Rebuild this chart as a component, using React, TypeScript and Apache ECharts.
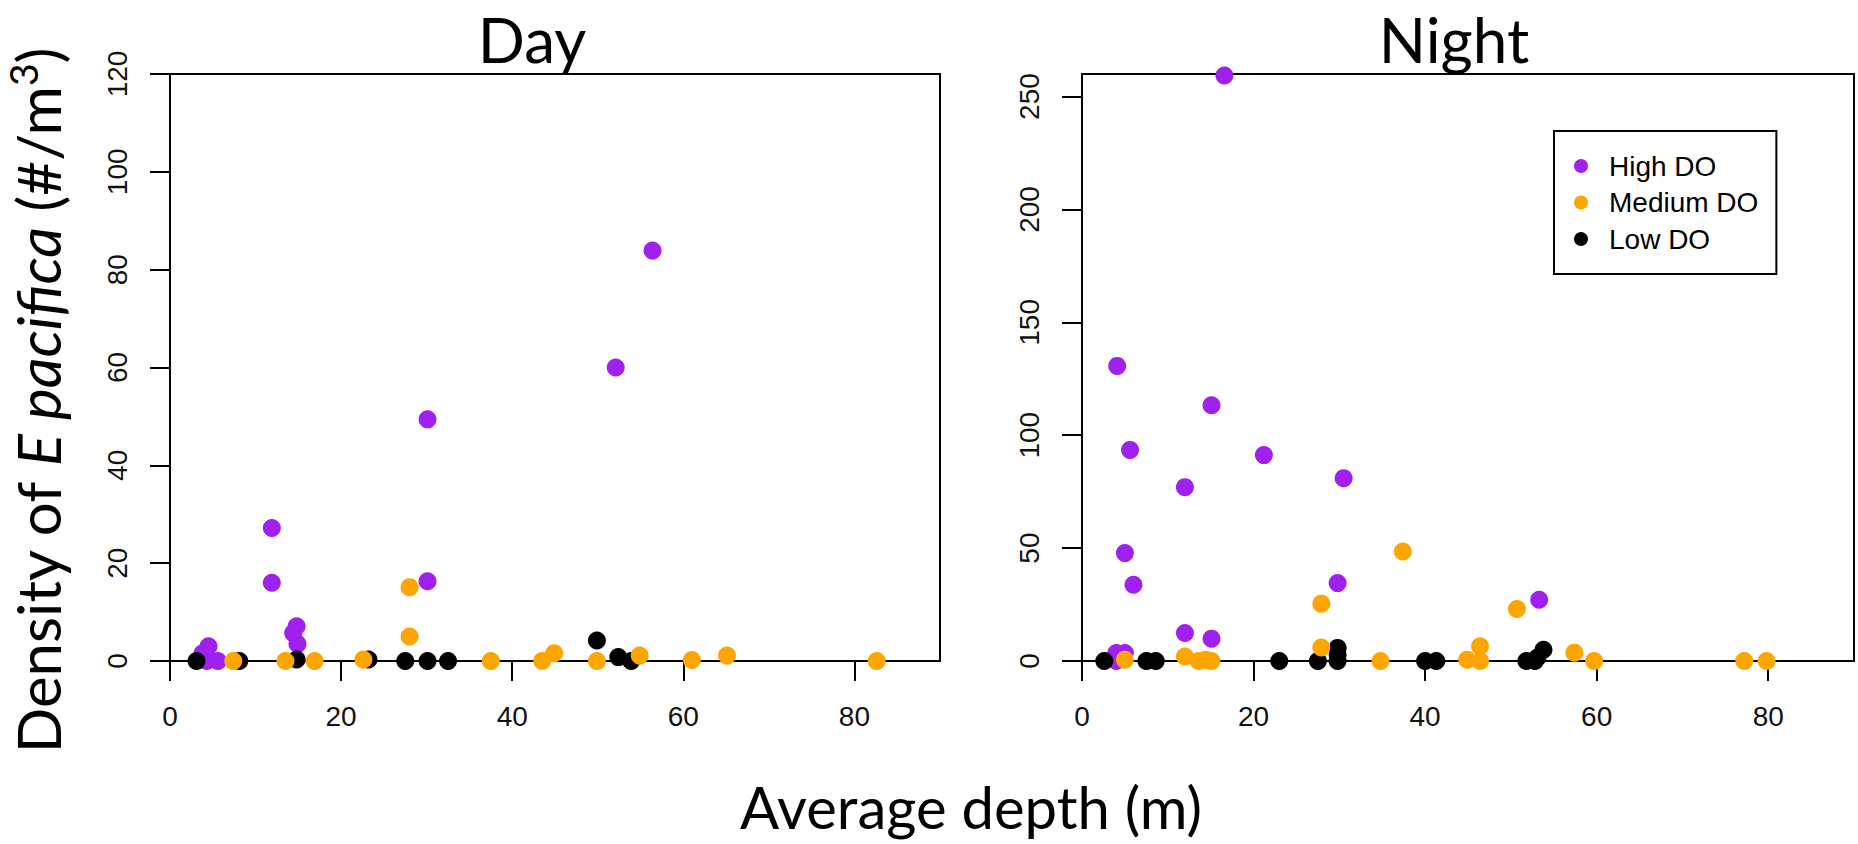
import React, { useEffect, useRef } from "react";
import * as echarts from "echarts";

// ---- tick values ----
const xTicks = [0, 20, 40, 60, 80];
const dayYTicks = [0, 20, 40, 60, 80, 100, 120];
const nightYTicks = [0, 50, 100, 150, 200, 250];

// ---- legend / groups ----
const groupNames = ["High DO", "Medium DO", "Low DO"];
const groupColors = ["#A020F0", "#FFA500", "#000000"];

// ---- Day: [average depth (m), density (#/m3)] ----
const dayHigh = [
  [4.5, 3.0], [3.8, 1.6], [4.3, 0], [5.6, 0], [11.9, 27.2], [11.9, 16.0],
  [14.8, 7.1], [14.4, 5.7], [14.9, 3.5], [30.1, 49.4], [30.1, 16.3],
  [52.1, 60.0], [56.4, 83.9],
];
const dayMedium = [
  [7.4, 0], [13.5, 0], [16.9, 0], [22.6, 0.3], [28.0, 15.1], [28.0, 5.0],
  [37.5, 0], [43.5, 0], [44.9, 1.6], [49.9, 0], [54.9, 1.1], [61.0, 0.2],
  [65.1, 1.1], [82.6, 0],
];
const dayLow = [
  [3.1, 0], [8.1, 0], [14.8, 0.3], [23.2, 0.3], [27.5, 0], [30.1, 0],
  [32.5, 0], [49.9, 4.2], [52.4, 0.8], [53.9, 0],
];

// ---- Night ----
const nightHigh = [
  [16.6, 259.3], [4.1, 130.7], [15.1, 113.3], [5.6, 93.5], [21.2, 91.2],
  [12.0, 77.0], [30.5, 81.0], [5.0, 47.8], [6.0, 33.8], [29.8, 34.5],
  [53.3, 27.1], [12.0, 12.4], [15.1, 9.9], [4.0, 3.5], [5.0, 3.5], [4.0, 0],
];
const nightMedium = [
  [5.0, 0.6], [12.0, 2.0], [13.6, 0], [14.4, 0.6], [15.1, 0], [27.9, 25.4],
  [27.9, 6.0], [34.8, 0], [37.4, 48.5], [44.9, 0.6], [46.4, 6.5], [46.4, 0],
  [50.7, 23.0], [57.4, 3.7], [59.7, 0], [77.2, 0], [79.8, 0],
];
const nightLow = [
  [2.6, 0], [7.5, 0], [8.6, 0], [23.0, 0], [27.5, 0], [29.8, 5.8],
  [29.8, 2.8], [29.8, 0], [40.0, 0], [41.3, 0], [51.8, 0], [52.8, 0],
  [53.1, 1.5], [53.8, 5.0],
];

const panelTitles = ["Day", "Night"];
const xTitle = "Average depth (m)";

export default function App() {
  const ref = useRef<HTMLDivElement>(null);

  useEffect(() => {
    if (!ref.current) return;
    const chart = echarts.init(ref.current, null, { renderer: "svg" });
    const tickFont = "'Liberation Sans', Arial, sans-serif";
    const titleFont = "Lato, 'Open Sans', sans-serif";

    const grids = [
      { left: 170, top: 74, width: 770, height: 587 },
      { left: 1082, top: 74, width: 772, height: 587 },
    ].map((g) => ({
      ...g,
      show: true,
      borderColor: "#000",
      borderWidth: 2,
      backgroundColor: "transparent",
      containLabel: false,
      outerBoundsMode: "none",
    }));

    const xAxisCfg = (gridIndex: number) => ({
      type: "value",
      gridIndex,
      min: 0,
      max: 90,
      axisLine: { show: false },
      splitLine: { show: false },
      axisTick: {
        show: true,
        length: 20,
        customValues: xTicks,
        lineStyle: { color: "#000", width: 2 },
      },
      axisLabel: {
        customValues: xTicks,
        margin: 41,
        fontSize: 28,
        fontFamily: tickFont,
        color: "#111",
      },
    });

    const yAxisCfg = (gridIndex: number, max: number, ticks: number[]) => ({
      type: "value",
      gridIndex,
      min: 0,
      max,
      axisLine: { show: false },
      splitLine: { show: false },
      axisTick: {
        show: true,
        length: 20,
        customValues: ticks,
        lineStyle: { color: "#000", width: 2 },
      },
      axisLabel: {
        customValues: ticks,
        rotate: 90,
        margin: 39,
        fontSize: 28,
        fontFamily: tickFont,
        color: "#111",
      },
    });

    const mk = (name: string, data: number[][], color: string, idx: number) => ({
      type: "scatter",
      name,
      data,
      xAxisIndex: idx,
      yAxisIndex: idx,
      symbol: "circle",
      symbolSize: 18,
      clip: false,
      itemStyle: { color, opacity: 1 },
      emphasis: { disabled: true },
    });

    const series = [
      mk(groupNames[0], dayHigh, groupColors[0], 0),
      mk(groupNames[2], dayLow, groupColors[2], 0),
      mk(groupNames[1], dayMedium, groupColors[1], 0),
      mk(groupNames[0], nightHigh, groupColors[0], 1),
      mk(groupNames[2], nightLow, groupColors[2], 1),
      mk(groupNames[1], nightMedium, groupColors[1], 1),
    ];

    const titleStyle = {
      fontFamily: titleFont,
      fontSize: 62,
      lineHeight: 60,
      fill: "#000",
      align: "center",
      verticalAlign: "middle",
    };

    chart.setOption({
      animation: false,
      backgroundColor: "#fff",
      grid: grids,
      xAxis: [xAxisCfg(0), xAxisCfg(1)],
      yAxis: [yAxisCfg(0, 120, dayYTicks), yAxisCfg(1, 260, nightYTicks)],
      legend: {
        data: groupNames,
        orient: "vertical",
        left: 1554,
        top: 131,
        padding: [17, 18, 17, 20],
        itemGap: 0.5,
        itemWidth: 14,
        itemHeight: 14,
        icon: "circle",
        borderColor: "#000",
        borderWidth: 2,
        selectedMode: false,
        textStyle: {
          fontSize: 28,
          lineHeight: 36,
          fontFamily: tickFont,
          color: "#000",
          padding: [0, 0, 0, 16],
        },
      },
      series,
      graphic: [
        {
          type: "text",
          x: 532,
          y: 39,
          style: { ...titleStyle, text: panelTitles[0] },
        },
        {
          type: "text",
          x: 1454,
          y: 39,
          style: { ...titleStyle, text: panelTitles[1] },
        },
        {
          type: "text",
          x: 971,
          y: 806,
          style: {
            text: xTitle,
            fontFamily: titleFont,
            fontSize: 58,
            lineHeight: 60,
            fill: "#000",
            align: "center",
            verticalAlign: "middle",
          },
        },
        {
          type: "text",
          x: 38,
          y: 401,
          rotation: Math.PI / 2,
          style: {
            text: "{n|Density of }{i|E pacifica}{n| (#/m}{s|3}{n|)}",
            fontFamily: titleFont,
            fontSize: 60,
            fill: "#000",
            align: "center",
            verticalAlign: "middle",
            rich: {
              n: { fontFamily: titleFont, fontSize: 60, lineHeight: 70, verticalAlign: "middle", fill: "#000" },
              i: { fontFamily: titleFont, fontSize: 60, lineHeight: 70, verticalAlign: "middle", fontStyle: "italic", fill: "#000" },
              s: { fontFamily: titleFont, fontSize: 39, lineHeight: 70, verticalAlign: "top", fill: "#000" },
            },
          },
        },
      ],
    });

    return () => {
      chart.dispose();
    };
  }, []);

  return (
    <div
      ref={ref}
      style={{
        position: "absolute",
        left: 0,
        top: 0,
        width: 1858,
        height: 844,
        background: "#fff",
      }}
    />
  );
}
